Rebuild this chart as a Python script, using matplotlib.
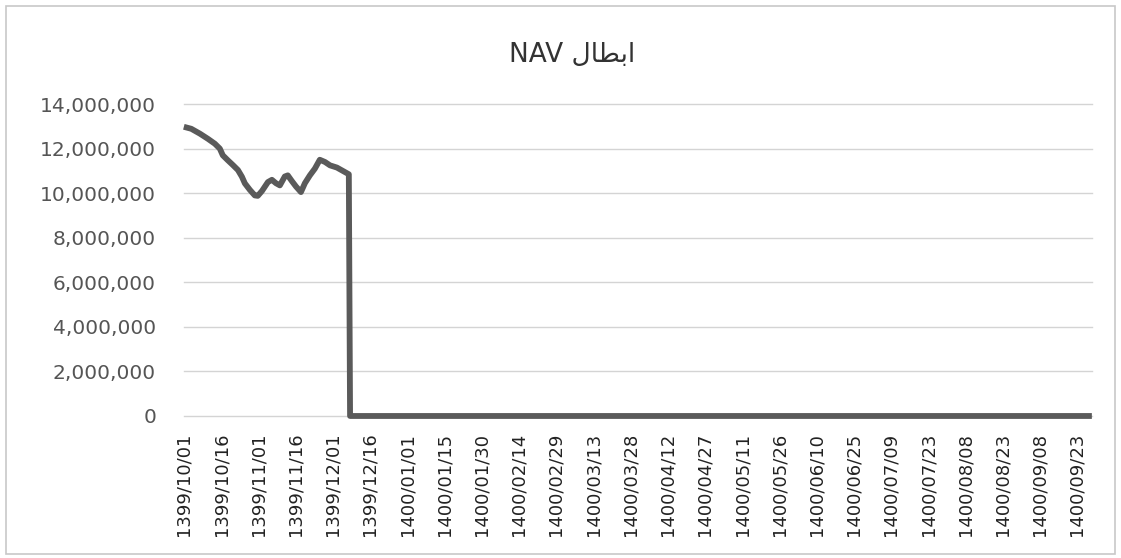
import numpy as np
import matplotlib.pyplot as plt
from matplotlib.patches import Rectangle
from matplotlib.ticker import FuncFormatter

# ==============================================================================
# title: "ابطال NAV" -- Arabic written with presentation forms in visual order
# so matplotlib (no shaping / bidi) draws it joined
title_text = "NAV \uFEDD\uFE8E\uFEC4\uFE91\uFE8D"

tick_labels = [
    "1399/10/01", "1399/10/16", "1399/11/01", "1399/11/16", "1399/12/01",
    "1399/12/16", "1400/01/01", "1400/01/15", "1400/01/30", "1400/02/14",
    "1400/02/29", "1400/03/13", "1400/03/28", "1400/04/12", "1400/04/27",
    "1400/05/11", "1400/05/26", "1400/06/10", "1400/06/25", "1400/07/09",
    "1400/07/23", "1400/08/08", "1400/08/23", "1400/09/08", "1400/09/23",
]

# day index since 1399/10/01 and NAV value
days = [0, 3, 6.5, 9.7, 12.5, 14.5, 15.7, 17.7, 19.8, 21.8, 23.4, 24.6, 26.6,
        28.6, 29.8, 31.5, 33.9, 35.5, 37.1, 38.7, 40.7, 41.9, 43.5, 45.2, 47.2,
        48.8, 50.8, 52.8, 54.8, 56.9, 58.9, 61.7, 64.1, 66.5,
        67, 100, 150, 200, 250, 300, 366]
nav = [12980000, 12890000, 12670000, 12440000, 12220000, 12000000, 11700000,
       11480000, 11260000, 11040000, 10740000, 10440000, 10150000, 9900000,
       9880000, 10100000, 10500000, 10600000, 10450000, 10350000, 10750000,
       10800000, 10550000, 10300000, 10050000, 10450000, 10800000, 11100000,
       11500000, 11400000, 11250000, 11150000, 11000000, 10850000,
       0, 0, 0, 0, 0, 0, 0]

# ==============================================================================
fig = plt.figure(figsize=(11.21, 5.58), dpi=100)
ax = fig.add_axes([0.164, 0.2545, 0.81, 0.559])

ax.plot(days, nav, color="#5a5a5a", linewidth=4.2, solid_joinstyle="round",
        solid_capstyle="butt", clip_on=False, zorder=3)

ax.set_ylim(0, 14000000)
ax.set_xlim(0, 366)
ax.set_yticks(np.arange(0, 14000001, 2000000))
ax.yaxis.set_major_formatter(FuncFormatter(lambda v, p: "{:,.0f}".format(v)))
ax.grid(axis="y", color="#d4d4d4", linewidth=1.0, clip_on=False)
ax.set_axisbelow(True)

ax.set_xticks(np.arange(len(tick_labels)) * 15)
ax.set_xticklabels(tick_labels, rotation=90, fontsize=13,
                   family="DejaVu Sans", color="#222222")
for lab in ax.get_yticklabels():
    lab.set_fontsize(14.5)
    lab.set_color("#555555")
ax.tick_params(axis="both", length=0)
ax.tick_params(axis="y", pad=20)
ax.tick_params(axis="x", pad=12)

for s in ax.spines.values():
    s.set_visible(False)

fig.text(0.51, 0.901, title_text, ha="center", va="center", fontsize=19,
         color="#333333", family="DejaVu Sans")

# chart area border
fig.patches.append(Rectangle((0.005, 0.008), 0.99, 0.982, transform=fig.transFigure,
                             fill=False, edgecolor="#c8c8c8", linewidth=1.2))

plt.savefig("out.png")
